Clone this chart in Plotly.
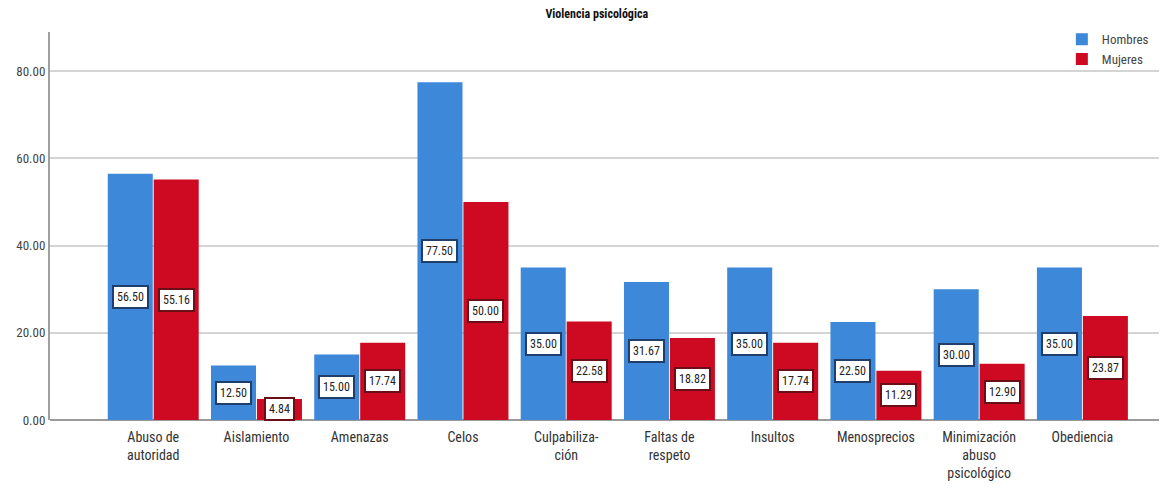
import plotly.graph_objects as go

categorias = [
    "Abuso de<br>autoridad",
    "Aislamiento",
    "Amenazas",
    "Celos",
    "Culpabiliza-<br>ción",
    "Faltas de<br>respeto",
    "Insultos",
    "Menosprecios",
    "Minimización<br>abuso<br>psicológico",
    "Obediencia",
]
hombres = [56.50, 12.50, 15.00, 77.50, 35.00, 31.67, 35.00, 22.50, 30.00, 35.00]
mujeres = [55.16, 4.84, 17.74, 50.00, 22.58, 18.82, 17.74, 11.29, 12.90, 23.87]
y_ticks = [0, 20, 40, 60, 80]

FONT = "Liberation Sans Narrow, Arial Narrow, Roboto Condensed, Roboto, sans-serif"
AZUL = "#3D88D9"
ROJO = "#CD0A22"

fig = go.Figure()
fig.add_trace(go.Bar(name="Hombres", x=categorias, y=hombres, marker_color=AZUL,
                     marker_line_width=0))
fig.add_trace(go.Bar(name="Mujeres", x=categorias, y=mujeres, marker_color=ROJO,
                     marker_line_width=0))

# etiquetas con caja blanca en el centro de cada barra
for serie, shift, borde in [(hombres, -23, "#1F3E6B"), (mujeres, 23, "#6A0F18")]:
    for cat, v in zip(categorias, serie):
        fig.add_annotation(
            x=cat, y=v / 2, xshift=shift, text=f"{v:.2f}", showarrow=False,
            bgcolor="white", bordercolor=borde, borderwidth=2, borderpad=3,
            font=dict(family=FONT, size=12, color="#222"),
        )

# la página deja 8px de margen: el lienzo se ajusta a la ventana
fig.update_layout(
    width=1159,
    height=485,
    barmode="group",
    bargap=0.11,
    bargroupgap=0.02,
    plot_bgcolor="white",
    paper_bgcolor="white",
    font=dict(family=FONT, size=12, color="#333"),
    title=dict(text="<b>Violencia psicológica</b>", x=0.508, xanchor="center",
               y=0.988, yanchor="middle", font=dict(size=12, color="#111")),
    margin=dict(l=42, r=2, t=24, b=73),
    showlegend=True,
    legend=dict(x=0.99, xanchor="right", y=1.02, yanchor="top", bgcolor="rgba(0,0,0,0)",
                font=dict(size=13, color="#444"), tracegroupgap=0,
                itemwidth=30),
    xaxis=dict(range=[-1.0, 9.8], showline=False, ticks="", showgrid=False,
               ticklabelstandoff=7, tickfont=dict(size=14, color="#333")),
    yaxis=dict(range=[0, 89], tickvals=y_ticks, tickformat=".2f",
               showgrid=True, gridcolor="#D4D4D4", gridwidth=1.5,
               showline=True, linecolor="#A0A0A0", linewidth=2,
               zeroline=True, zerolinecolor="#9A9A9A", zerolinewidth=2,
               ticks="", tickfont=dict(size=13, color="#444")),
)

fig.write_html("out.html")
